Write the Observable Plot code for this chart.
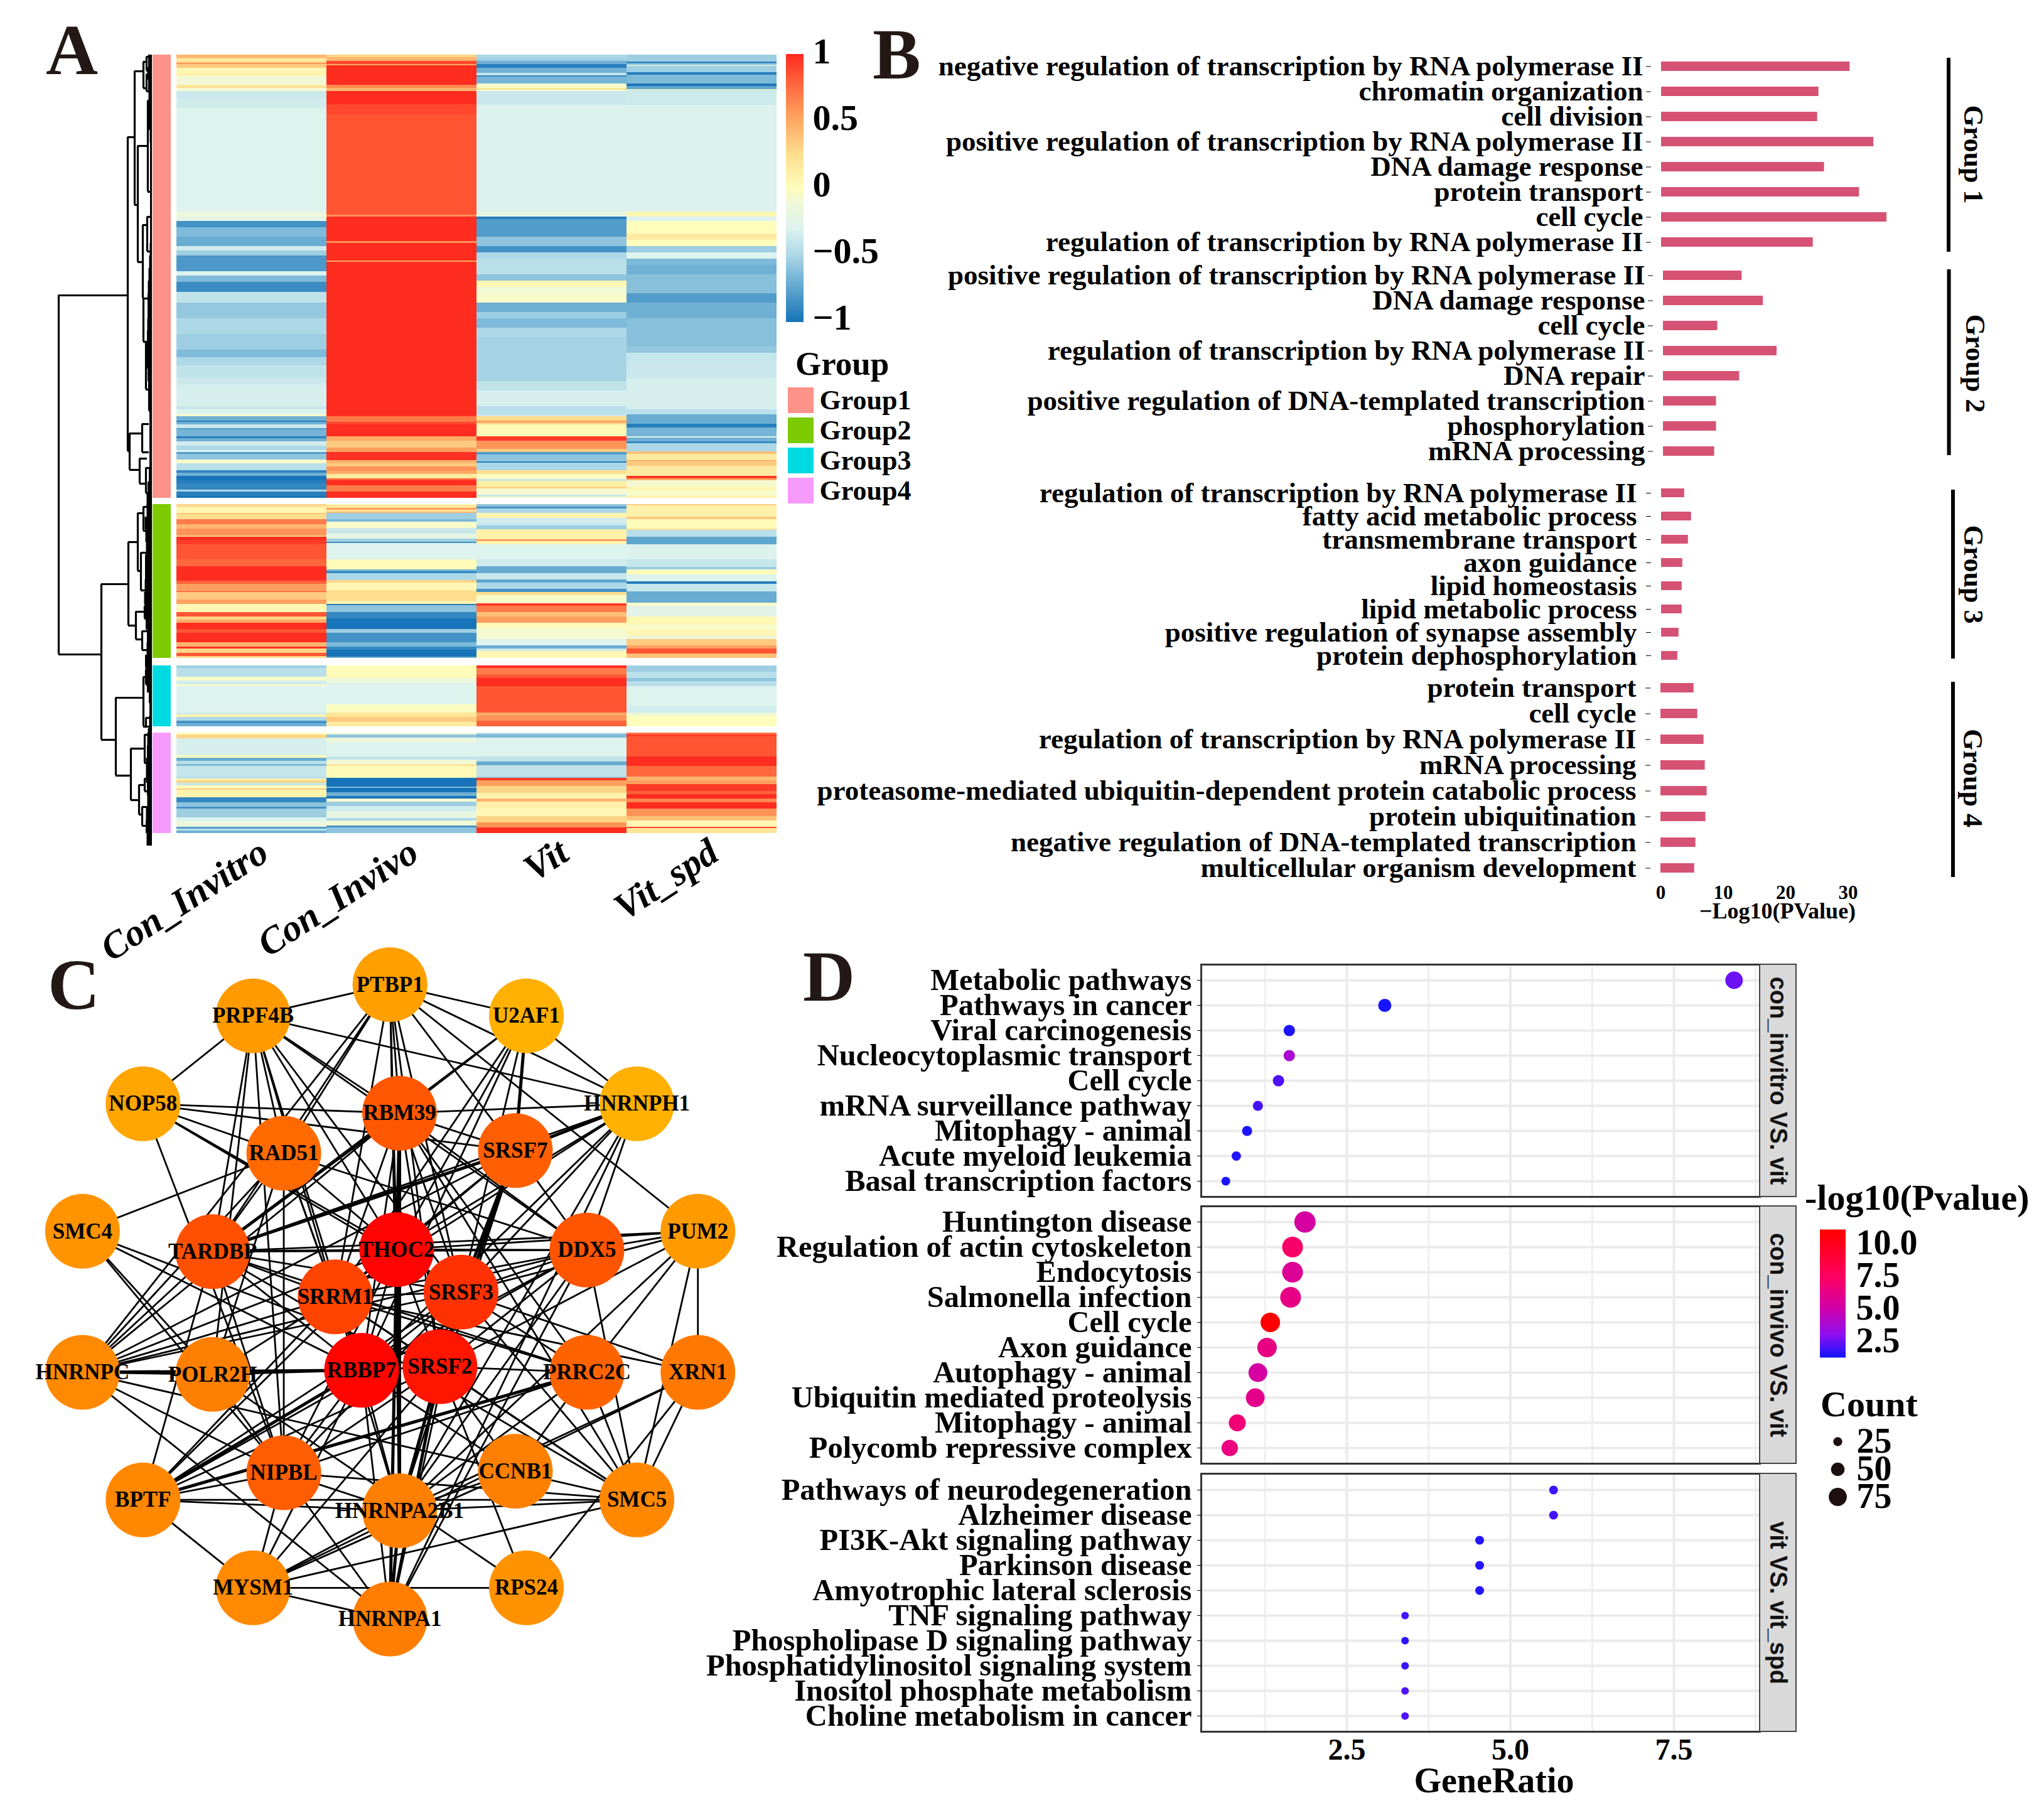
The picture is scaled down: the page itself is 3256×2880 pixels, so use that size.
<!DOCTYPE html>
<html><head><meta charset="utf-8">
<script src="https://cdn.jsdelivr.net/npm/d3@7"></script>
<script src="https://cdn.jsdelivr.net/npm/@observablehq/plot@0.6"></script>
<style>
html,body{margin:0;background:#fff}
#root{position:relative;width:3256px;height:2880px;overflow:hidden;font-family:"Liberation Serif",serif;font-weight:bold}
#root svg{position:absolute;background:transparent;max-width:none;overflow:visible}
.t{position:absolute;line-height:1;white-space:nowrap}
.letter{font-size:115px;color:#231815}
</style></head><body><div id="root"></div>
<script>
// ---------- Panel A data: each list is [last row of the run, z-score]
const heatColumns = ["Con_Invitro","Con_Invivo","Vit","Vit_spd"];
const groupNames = ["Group1","Group2","Group3","Group4"];
const groupRows = [706,245,97,160];
const g1ConInvitro=[[5,.45],[7,.25],[11,.15],[13,.3],[15,.6],[21,.35],[29,.05],[34,.1],[48,-.1],[50,.15],[53,.25],[58,-.08],[70,-.38],[85,-.36],[250,-.3],[258,-.15],[265,-.22],[275,-.85],[290,-.65],[305,-.72],[312,-.35],[320,-.55],[345,-.82],[352,-.3],[362,-.65],[378,-.88],[395,-.42],[420,-.58],[445,-.5],[470,-.55],[482,-.65],[495,-.5],[515,-.42],[525,-.38],[535,-.34],[560,-.33],[565,-.4],[573,-.3],[576,-.05],[583,-.7],[585,-.95],[589,-.7],[595,-.38],[597,-.8],[608,-.68],[611,-.95],[616,-.7],[623,-.35],[630,-.5],[633,-.3],[636,-.8],[645,-.6],[651,-.05],[662,-.45],[666,-.92],[671,-.7],[678,-1],[683,-.95],[693,-.9],[696,-.5],[703,-.95],[706,-1]];
const g1ConInvivo=[[4,.3],[10,.45],[15,.9],[17,.5],[48,1],[53,.65],[58,.45],[79,1],[95,.9],[255,.85],[258,.6],[297,1],[300,.6],[328,1],[330,.5],[573,1],[576,.98],[585,.7],[589,.9],[608,1],[615,.5],[626,.35],[633,.55],[646,.98],[651,.45],[656,.35],[663,.6],[668,.5],[675,.15],[678,.8],[686,1],[696,.7],[706,1]];
const g1Vit=[[6,-.5],[10,-.55],[15,-.7],[21,-.95],[29,-.7],[33,-.4],[35,-.9],[46,-.68],[53,-.05],[56,.2],[58,-.1],[80,-.38],[250,-.31],[258,-.2],[262,-.95],[290,-.8],[305,-.6],[315,-.85],[325,-.5],[350,-.45],[360,-.6],[370,.05],[380,-.1],[395,-.05],[410,-.7],[420,-.55],[435,-.65],[450,-.5],[520,-.52],[535,-.42],[560,-.33],[573,-.45],[576,-.38],[583,.25],[586,.55],[589,.3],[608,.03],[615,.95],[628,.6],[633,.35],[637,-.8],[648,-.6],[650,-.95],[662,-.5],[668,.25],[676,-.02],[679,-.4],[688,.12],[691,.3],[701,-.08],[704,-.4],[706,-.05]];
const g1VitSpd=[[11,-.55],[14,-.9],[17,-.55],[18,-.05],[28,-.55],[32,-.95],[46,-.65],[50,-.98],[55,-.75],[56,.1],[80,-.37],[250,-.31],[258,.05],[265,-.3],[285,0],[295,.15],[305,0],[315,-.55],[325,-.3],[335,-.65],[350,-.7],[380,-.62],[395,-.8],[420,-.7],[465,-.62],[475,-.58],[490,-.4],[515,-.38],[530,-.33],[565,-.33],[573,-.45],[588,-.72],[594,-.95],[608,-.68],[610,-.25],[616,-.7],[619,-.9],[632,-.5],[636,.4],[646,.15],[647,.6],[655,.35],[671,.15],[675,.95],[678,.5],[688,-.08],[694,.05],[703,-.05],[706,.1]];
const g2ConInvitro=[[4,.3],[7,.1],[14,.05],[16,.35],[24,.25],[32,.7],[39,.45],[50,.6],[52,.3],[57,1],[64,.95],[88,.85],[99,.78],[122,1],[127,.8],[139,.55],[140,.9],[152,.35],[159,.55],[172,.05],[179,.85],[184,.3],[189,.5],[199,1],[205,.85],[220,1],[227,.45],[230,.98],[237,.3],[242,.85],[245,.3]];
const g2ConInvivo=[[2,.1],[6,.2],[9,.55],[12,.2],[14,.45],[24,-.55],[28,-.65],[38,-.05],[47,-.38],[55,-.2],[60,-.55],[62,-.85],[88,-.3],[104,.02],[107,-.7],[110,-.9],[121,-.5],[125,.3],[137,.05],[154,.25],[159,.08],[161,-.95],[172,-.6],[182,-.9],[199,-1],[205,-.55],[220,-.85],[227,-.65],[232,-.9],[243,-1],[245,-.7]];
const g2Vit=[[4,-.6],[7,-.85],[14,-.5],[22,.08],[30,-.35],[34,-.4],[40,-.55],[56,.1],[59,.55],[64,.05],[88,-.3],[99,-.36],[110,-.72],[120,-.38],[125,-.75],[135,-.5],[140,-.85],[145,.25],[158,-.05],[162,.95],[172,.7],[179,.4],[189,.55],[197,.03],[215,-.08],[225,-.3],[230,-.72],[234,-.35],[245,.05]];
const g2VitSpd=[[2,.35],[20,.1],[24,.35],[39,.02],[41,.25],[52,-.45],[64,-.75],[88,-.31],[100,-.4],[104,-.55],[112,.02],[123,-.3],[127,-.95],[139,-.4],[157,-.72],[162,-.05],[179,-.25],[192,.05],[200,-.05],[210,.05],[215,-.15],[225,.35],[230,.55],[238,.85],[245,.4]];
const g3ConInvitro=[[4,-.55],[18,-.45],[24,-.05],[30,-.35],[33,-.05],[75,-.3],[78,-.35],[82,.1],[88,-.5],[92,-.85],[97,-.7]];
const g3ConInvivo=[[20,.02],[28,-.15],[62,-.3],[75,-.02],[82,.2],[90,.35],[97,.15]];
const g3Vit=[[4,1],[15,.7],[20,.85],[33,1],[75,.85],[80,.5],[88,.6],[97,.8]];
const g3VitSpd=[[10,-.55],[20,-.45],[25,-.6],[33,-.45],[65,-.3],[75,-.35],[80,-.15],[97,0]];
const g4ConInvitro=[[3,.02],[9,.3],[36,-.33],[40,0],[45,-.72],[50,-.45],[53,-.65],[70,-.4],[73,-.45],[76,.1],[80,.3],[84,-.4],[89,.02],[91,.35],[103,.08],[111,-.9],[118,-.6],[121,-.85],[135,-.55],[141,-.3],[150,-.15],[153,-.8],[156,-.45],[160,-.7]];
const g4ConInvivo=[[3,-.15],[8,-.6],[16,-.15],[38,-.3],[43,-.42],[50,-.1],[53,.2],[72,.03],[86,-1],[88,-.65],[95,-1],[101,-.7],[105,-1],[110,-.08],[117,-.55],[125,-.35],[136,-.2],[140,-.5],[148,-.1],[151,-.85],[160,-.6]];
const g4Vit=[[2,-.4],[8,-.65],[38,-.3],[46,-.42],[52,-.72],[70,-.42],[72,-.55],[76,.95],[85,.55],[96,.3],[105,.08],[110,.45],[121,.1],[133,.05],[143,.3],[151,.6],[160,1]];
const g4VitSpd=[[3,.75],[6,.95],[38,.85],[53,1],[70,.78],[76,.45],[82,.55],[93,.95],[98,.8],[105,1],[111,.65],[121,1],[133,.6],[140,.4],[150,.05],[152,.9],[160,.2]];
const heatRuns=[[g1ConInvitro,g1ConInvivo,g1Vit,g1VitSpd],[g2ConInvitro,g2ConInvivo,g2Vit,g2VitSpd],[g3ConInvitro,g3ConInvivo,g3Vit,g3VitSpd],[g4ConInvitro,g4ConInvivo,g4Vit,g4VitSpd]];
const heatTicks=[-1,-.5,0,.5,1];
const groupColors=["#FF9289","#7CCB00","#00DBE2","#F69BFC"];
// dendrogram merges: height, upper row, lower row, upper child height, lower child height
const dendH=[149,39,36,28,23,7,14,9,9,15,8,14,10,5,16,20,10,81,38,23,14,18,26,12,16,58,14,10,10,34,12,21,12,16];
const dendTop=[383,131,603,26,145,73,11,3,31,271,258,388,457,513,588,643,658,843,776,730,720,793,887,878,918,1024,991,980,1056,1105,1083,1163,1153,1198];
const dendBottom=[955,631,661,239,330,218,53,25,58,388,313,457,533,567,633,683,698,1091,909,822,758,853,931,898,948,1148,1070,1003,1070,1187,1128,1210,1173,1228];
const dendChildTop=[39,28,16,14,7,2,9,2,2,8,3,6,5,3,5,8,4,38,23,14,5,5,12,3,6,14,10,3,3,12,3,12,3,4];
const dendChildBottom=[81,36,20,23,15,2,9,2,2,14,3,10,5,3,5,10,4,58,26,18,7,8,16,3,3,34,10,3,3,21,3,16,3,4];
// outline of the dense leaf fringe, one reading per twenty rows of each group
const fringeG1=[4,8,7,5,6,6,4,3,3,3,3,3,3,3,3,3,4,5,6,7,7,7,8,8,9,8,6,6,4,4,4,4,4,4,6,8,9,7,8,8,9];
const fringeG2=[6,11,12,9,10,12,10,13,12,11,9,7,10,12,9,7];
const fringeG3=[8,7,6,4,4,5,8];
const fringeG4=[8,7,9,10,9,7,8,11,9,8];

// ---------- Panel B data
const termsG1=["negative regulation of transcription by RNA polymerase II","chromatin organization","cell division","positive regulation of transcription by RNA polymerase II","DNA damage response","protein transport","cell cycle","regulation of transcription by RNA polymerase II"];
const logpG1=[30.2,25.2,25.0,34.0,26.1,31.7,36.1,24.3];
const termsG2=["positive regulation of transcription by RNA polymerase II","DNA damage response","cell cycle","regulation of transcription by RNA polymerase II","DNA repair","positive regulation of DNA-templated transcription","phosphorylation","mRNA processing"];
const logpG2=[12.6,16,8.7,18.2,12.2,8.5,8.5,8.2];
const termsG3=["regulation of transcription by RNA polymerase II","fatty acid metabolic process","transmembrane transport","axon guidance","lipid homeostasis","lipid metabolic process","positive regulation of synapse assembly","protein dephosphorylation"];
const logpG3=[3.7,4.8,4.3,3.4,3.3,3.3,2.8,2.6];
const termsG4=["protein transport","cell cycle","regulation of transcription by RNA polymerase II","mRNA processing","proteasome-mediated ubiquitin-dependent protein catabolic process","protein ubiquitination","negative regulation of DNA-templated transcription","multicellular organism development"];
const logpG4=[5.3,5.9,6.9,7.1,7.4,7.2,5.6,5.4];

// ---------- Panel C data
const nodeNames=["PTBP1","PRPF4B","U2AF1","NOP58","HNRNPH1","RBM39","RAD51","SRSF7","SMC4","PUM2","TARDBP","THOC2","DDX5","SRRM1","SRSF3","RBBP7","SRSF2","HNRNPC","POLR2H","PRRC2C","XRN1","NIPBL","CCNB1","BPTF","SMC5","HNRNPA2B1","MYSM1","RPS24","HNRNPA1"];
const nodeLayoutX=[811,526,1095,297,1325,831,590,1072,171,1452,442,825,1221,697,959,752,915,171,442,1221,1452,590,1072,297,1325,831,526,1095,811];
const nodeLayoutY=[106,166,166,335,335,353,430,425,580,580,619,615,616,706,697,847,840,851,855,851,851,1044,1041,1096,1096,1117,1265,1265,1325];
const nodeScore=[9,12,0,6,0,50,40,46,16,12,55,98,52,62,72,97,88,22,28,44,31,47,28,23,23,28,22,17,29];
const neighbours={
PTBP1:"U2AF1 HNRNPH1 PRPF4B RBM39 THOC2 SRSF3 SRSF2 SRSF7 RAD51 TARDBP SRRM1 HNRNPA2B1 HNRNPC PUM2",
PRPF4B:"NOP58 HNRNPH1 RBM39 THOC2 SRSF3 RBBP7 SRRM1 TARDBP RAD51 POLR2H DDX5 NIPBL",
U2AF1:"HNRNPH1 RBM39 SRSF7 SRSF3 THOC2 SRRM1 TARDBP RBBP7",
NOP58:"RBM39 SRSF7 RAD51 THOC2 NIPBL SRSF3",
HNRNPH1:"RBM39 SRSF7 THOC2 SRSF3 DDX5 RBBP7 TARDBP HNRNPA2B1 HNRNPA1 SRRM1",
RBM39:"THOC2 SRSF3 SRSF2 RBBP7 SRRM1 TARDBP SRSF7 DDX5 HNRNPC PRRC2C SMC5 HNRNPA2B1",
RAD51:"SMC4 THOC2 SRRM1 RBBP7 TARDBP NIPBL DDX5 HNRNPC POLR2H",
SRSF7:"THOC2 SRSF3 SRSF2 SRRM1 TARDBP DDX5 HNRNPC HNRNPA2B1",
SMC4:"POLR2H RBBP7 SRSF2 NIPBL",
PUM2:"DDX5 THOC2 TARDBP XRN1 SMC5 PRRC2C SRSF3 SRSF2 HNRNPA2B1",
TARDBP:"THOC2 DDX5 SRSF3 SRRM1 RBBP7 HNRNPC BPTF NIPBL PRRC2C SMC5",
THOC2:"DDX5 SRRM1 SRSF3 RBBP7 SRSF2 HNRNPA2B1 HNRNPA1 HNRNPC NIPBL BPTF",
DDX5:"SRSF3 SRRM1 SRSF2 RBBP7 HNRNPA2B1 HNRNPA1 SMC5 HNRNPC BPTF",
SRRM1:"SRSF3 RBBP7 SRSF2 HNRNPC POLR2H XRN1 SMC5 BPTF HNRNPA2B1 PRRC2C",
SRSF3:"RBBP7 SRSF2 HNRNPC PRRC2C SMC5 XRN1 HNRNPA1 HNRNPA2B1 BPTF NIPBL",
RBBP7:"SRSF2 HNRNPC POLR2H NIPBL HNRNPA2B1 HNRNPA1 BPTF CCNB1 MYSM1",
SRSF2:"HNRNPA2B1 HNRNPA1 CCNB1 NIPBL BPTF SMC5 PRRC2C RPS24 MYSM1",
HNRNPC:"POLR2H NIPBL HNRNPA1 SMC5",
POLR2H:"NIPBL RPS24",
PRRC2C:"BPTF SMC5 HNRNPA2B1 CCNB1",
XRN1:"HNRNPA2B1 MYSM1 RPS24 SMC5",
NIPBL:"BPTF SMC5 MYSM1 HNRNPA1 HNRNPA2B1 PRRC2C",
CCNB1:"HNRNPA2B1 MYSM1",
BPTF:"SMC5 HNRNPA2B1 MYSM1",
SMC5:"MYSM1 HNRNPA2B1",
HNRNPA2B1:"MYSM1 HNRNPA1",
MYSM1:"RPS24 HNRNPA1"};
const heavyLinks=["U2AF1 SRSF7","HNRNPH1 SRSF7","RBM39 THOC2","RBM39 TARDBP","RBM39 HNRNPA2B1","SRSF7 SRSF3","SRSF7 SRSF2","SRSF7 TARDBP","THOC2 HNRNPA2B1","THOC2 HNRNPA1","RBBP7 HNRNPC","RBBP7 BPTF","SRSF2 HNRNPA2B1","SRSF2 HNRNPA1","PRRC2C BPTF","HNRNPA2B1 HNRNPA1"];

// ---------- Panel D data
const keggP1=["Metabolic pathways","Pathways in cancer","Viral carcinogenesis","Nucleocytoplasmic transport","Cell cycle","mRNA surveillance pathway","Mitophagy - animal","Acute myeloid leukemia","Basal transcription factors"];
const ratioP1=[8.42,3.08,1.62,1.62,1.455,1.14,.975,.81,.65];
const countP1=[72,48,38,38,38,31,31,27,24];
const pvalP1=[2.5,1.3,1.4,3.8,2.1,2,1.4,1.5,1.35];
const keggP2=["Huntington disease","Regulation of actin cytoskeleton","Endocytosis","Salmonella infection","Cell cycle","Axon guidance","Autophagy - animal","Ubiquitin mediated proteolysis","Mitophagy - animal","Polycomb repressive complex"];
const ratioP2=[1.86,1.67,1.67,1.64,1.33,1.28,1.14,1.10,.825,.71];
const countP2=[93,90,90,90,83,83,79,79,69,66];
const pvalP2=[5.2,7.2,5.7,6.2,10.9,6.3,5.2,6,6.8,6.4];
const keggP3=["Pathways of neurodegeneration","Alzheimer disease","PI3K-Akt signaling pathway","Parkinson disease","Amyotrophic lateral sclerosis","TNF signaling pathway","Phospholipase D signaling pathway","Phosphatidylinositol signaling system","Inositol phosphate metabolism","Choline metabolism in cancer"];
const ratioP3=[5.66,5.66,4.53,4.53,4.53,3.39,3.39,3.39,3.39,3.39];
const countP3=[24,24,24,24,24,17,17,17,17,17];
const pvalP3=[1.9,1.9,1.5,1.5,1.5,1.9,1.6,1.8,2.1,2.1];
const stripLabels=["con_invitro VS. vit","con_invivo VS. vit","vit VS. vit_spd"];
const countLegend=[25,50,75];
const pvalTicks=[2.5,5,7.5,10];

// ---------- helpers
const root=document.getElementById("root");
const serif={fontFamily:"Liberation Serif",fontWeight:"bold",color:"#000",background:"transparent"};
function place(svg,left,top){svg.style.left=left+"px";svg.style.top=top+"px";root.appendChild(svg);return svg;}
function label(text,left,top,size,cls){const d=document.createElement("div");d.className="t "+(cls||"");d.textContent=text;d.style.left=left+"px";d.style.top=top+"px";if(size)d.style.fontSize=size+"px";root.appendChild(d);}
const heatScale={type:"linear",domain:[-1,-.75,-.5,-.3,-.1,0,.25,.5,.75,.85,1],range:["#1874B8","#5FA6CF","#ADD8E7","#DDF3EE","#F1F8D5","#FFFDBC","#FEDF8F","#FFAB66","#FF6F42","#FF5533","#FF2C20"],clamp:true};

// ---------- Panel A
const groupTops=[87,803,1060,1167];
groupNames.forEach((g,gi)=>{
  const rows=[];
  heatRuns[gi].forEach((runs,ci)=>{let start=0;runs.forEach(([end,z])=>{rows.push({col:heatColumns[ci],start,end,z});start=end;});});
  const last=gi===3;
  const marks=[Plot.barY(rows,{x:"col",y1:"start",y2:"end",fill:"z",shapeRendering:"crispEdges"})];
  if(last)marks.push(Plot.axisX({tickRotate:-33,tickSize:0,tickPadding:24,fontSize:60,fontStyle:"italic",dx:20,label:null}));
  place(Plot.plot({width:958,height:groupRows[gi]+(last?240:0),marginTop:0,marginLeft:0,marginRight:0,marginBottom:last?240:0,style:serif,
    x:{domain:heatColumns,padding:0,axis:null,label:null},y:{domain:[0,groupRows[gi]],reverse:true,axis:null},color:heatScale,marks}),280,groupTops[gi]);
  place(Plot.plot({width:29,height:groupRows[gi],margin:0,style:serif,x:{axis:null,padding:0},y:{axis:null,padding:0},
    marks:[Plot.cell([g],{x:d=>d,y:d=>d,fill:groupColors[gi]})]}),243,groupTops[gi]);
});
// dendrogram
const merges=dendH.map((h,i)=>({h,top:dendTop[i],bottom:dendBottom[i],ct:dendChildTop[i],cb:dendChildBottom[i]}));
const fringe=(list,start)=>list.map((h,i)=>({row:start+i*20,h}));
const dx={domain:[162,0],axis:null},dy={domain:[0,1240],reverse:true,axis:null};
const areaOpts={y:"row",x1:0,x2:"h",fill:"#000",curve:"step"};
place(Plot.plot({width:162,height:1240,margin:0,style:serif,x:dx,y:dy,marks:[
  Plot.areaX(fringe(fringeG1,0),areaOpts),Plot.areaX(fringe(fringeG2,716),areaOpts),
  Plot.areaX(fringe(fringeG3,973),areaOpts),Plot.areaX(fringe(fringeG4,1080),areaOpts),
  Plot.ruleX(merges,{x:"h",y1:"top",y2:"bottom",stroke:"#000",strokeWidth:3.2}),
  Plot.ruleY(merges,{y:"top",x1:"h",x2:"ct",stroke:"#000",strokeWidth:3.2}),
  Plot.ruleY(merges,{y:"bottom",x1:"h",x2:"cb",stroke:"#000",strokeWidth:3.2})
]}),80,87);
// colour bar A
const barSteps=d3.range(-1,1.001,.01);
place(Plot.plot({width:200,height:424,marginTop:0,marginBottom:0,marginLeft:0,marginRight:172,style:serif,
  x:{axis:null},y:{domain:[-1,1],label:null},color:heatScale,marks:[
  Plot.ruleY(barSteps,{y:d=>d,stroke:d=>d,strokeWidth:3}),
  Plot.axisY(heatTicks,{anchor:"right",tickSize:0,tickPadding:14,fontSize:58,dy:-5,label:null,tickFormat:d=>(d<0?"\u2212":"")+Math.abs(d)})
]}),1252,87);
label("Group",1267,553,53);
place(Plot.plot({width:200,height:193,marginTop:0,marginBottom:0,marginLeft:0,marginRight:159,style:serif,
  x:{axis:null,padding:0},y:{domain:groupNames,paddingInner:.14,paddingOuter:.07,label:null},marks:[
  Plot.cell(groupNames,{y:d=>d,x:()=>"k",fill:(d,i)=>groupColors[i]}),
  Plot.axisY({anchor:"right",tickSize:0,tickPadding:9,fontSize:44,label:null})
]}),1255,613);

// ---------- Panel B
function barPanel(terms,vals,top,h,leftShift,pad,name,insets,ruleAt,last){
  const rows=terms.map((t,i)=>({t,v:vals[i]}));
  const marks=[
    Plot.barX(rows,{y:"t",x:"v",fill:"#D65274"}),
    Plot.axisY({anchor:"left",tickSize:8,tickPadding:pad,fontSize:45,label:null}),
    Plot.ruleX([ruleAt],{x:d=>d,stroke:"#000",strokeWidth:6,insetTop:insets[0],insetBottom:insets[1]}),
    Plot.text([name],{x:()=>49.9,frameAnchor:"middle",rotate:90,fontSize:44,fill:"#000"})
  ];
  if(last){marks.push(Plot.axisX({ticks:[0,10,20,30],tickSize:0,tickPadding:5,fontSize:31,label:null}));
    marks.push(Plot.text(["\u2212Log10(PValue)"],{x:()=>18.7,frameAnchor:"bottom",dy:58,fontSize:36,fill:"#000"}));}
  place(Plot.plot({width:2020,height:h+(last?70:0),marginTop:0,marginBottom:last?70:0,marginLeft:1430,marginRight:17,style:serif,
    x:{domain:[0,56],range:[1446,2003],axis:last?undefined:null,label:null},y:{domain:terms,paddingInner:.63,paddingOuter:.315,label:null},marks}),1200+leftShift,top);
}
barPanel(termsG1,logpG1,82,327,0,5,"Group 1",[10,8],46,false);
barPanel(termsG2,logpG2,416,325,2.5,5,"Group 2",[13,16],45.75,false);
barPanel(termsG3,logpG3,766,297,0,15,"Group 3",[14,14],46.7,false);
barPanel(termsG4,logpG4,1074,330,-1,15,"Group 4",[12,7],46.8,true);

// ---------- Panel C
const nodes=nodeNames.map((name,i)=>({name,x:nodeLayoutX[i],y:nodeLayoutY[i],score:nodeScore[i]}));
const byName=new Map(nodes.map(n=>[n.name,n]));
const heavy=new Set(heavyLinks);
const links=Object.entries(neighbours).flatMap(([a,list])=>list.split(" ").map(b=>({a:byName.get(a),b:byName.get(b),w:heavy.has(a+" "+b)?5:2.8})));
place(Plot.plot({width:1200,height:1300,margin:0,style:serif,
  x:{domain:[0,1568],axis:null},y:{domain:[0,1568],range:[0,1300],axis:null},
  color:{type:"linear",domain:[0,100],range:["#FFB000","#FF0000"]},marks:[
  Plot.link(links,{x1:d=>d.a.x,y1:d=>d.a.y,x2:d=>d.b.x,y2:d=>d.b.y,stroke:"#000",strokeWidth:"w"}),
  Plot.dot(nodes,{x:"x",y:"y",r:59.5,fill:"score"}),
  Plot.text(nodes,{x:"x",y:"y",text:"name",fontSize:35,fill:"#000"})
]}),0,1480);

// ---------- Panel D
const rScale={type:"linear",domain:[10,100],range:[5,18]};
const pvScale={type:"linear",domain:[1.27,3,5,7.5,10.97],range:["#1414FF","#9010F0","#D000A8","#FF0060","#FF0000"]};
function dotPanel(terms,ratio,count,pv,top,h,strip,last){
  const rows=terms.map((t,i)=>({t,x:ratio[i],n:count[i],p:pv[i]}));
  const marks=[
    Plot.ruleX([1.25,3.75,6.25,8.75],{x:d=>d,stroke:"#EFEFEF",strokeWidth:3}),
    Plot.ruleX([2.5,5,7.5],{x:d=>d,stroke:"#EBEBEB",strokeWidth:4}),
    Plot.ruleY(terms,{y:d=>d,stroke:"#EBEBEB",strokeWidth:4}),
    Plot.dot(rows,{x:"x",y:"t",r:"n",fill:"p"}),
    Plot.frame({stroke:"#333",strokeWidth:3}),
    Plot.axisY({anchor:"left",tickSize:6,tickPadding:9,fontSize:48.5,label:null})
  ];
  if(last){marks.push(Plot.axisX({ticks:[2.5,5,7.5],tickFormat:".1f",tickSize:0,tickPadding:10,fontSize:48,label:null}));
    marks.push(Plot.text(["GeneRatio"],{x:()=>4.75,frameAnchor:"bottom",dy:96,fontSize:56,fill:"#000"}));}
  place(Plot.plot({width:1603,height:h+(last?122:0),marginTop:0,marginBottom:last?122:0,marginLeft:713,marginRight:0,style:serif,
    x:{domain:[.274,8.815],axis:last?undefined:null,label:null},y:{type:"point",domain:terms,padding:.6,label:null},r:rScale,color:pvScale,marks}),1200,top);
  const stripSvg=place(Plot.plot({width:58,height:h,margin:0,style:serif,x:{axis:null,padding:0},y:{axis:null,padding:0},marks:[
    Plot.cell([strip],{x:d=>d,y:d=>d,fill:"#D9D9D9",stroke:"#444",strokeWidth:2}),
    Plot.text([strip],{x:d=>d,y:d=>d,rotate:90,fontSize:38,fill:"#111"})
  ]}),2803,top);
  stripSvg.querySelectorAll("text").forEach(t=>{t.style.fontFamily="'Liberation Sans',sans-serif";t.style.fontWeight="bold";});
}
dotPanel(keggP1,ratioP1,countP1,pvalP1,1536,370,stripLabels[0],false);
dotPanel(keggP2,ratioP2,countP2,pvalP2,1921,410,stripLabels[1],false);
dotPanel(keggP3,ratioP3,countP3,pvalP3,2347,411,stripLabels[2],true);
// legends D
label("-log10(Pvalue)",2875,1879,58);
place(Plot.plot({width:240,height:202,margin:0,marginRight:199,style:serif,x:{axis:null},y:{domain:[1.27,10.97],label:null},color:pvScale,marks:[
  Plot.ruleY(d3.range(1.27,10.98,.05),{y:d=>d,stroke:d=>d,strokeWidth:2}),
  Plot.axisY(pvalTicks,{anchor:"right",tickSize:0,tickPadding:16,fontSize:56,label:null,tickFormat:".1f"})
]}),2899,1959);
label("Count",2900,2208,58);
place(Plot.plot({width:204,height:132,marginTop:0,marginBottom:0,marginLeft:0,marginRight:150,style:serif,x:{axis:null},
  y:{type:"point",domain:countLegend,padding:.5,label:null},r:rScale,marks:[
  Plot.dot(countLegend,{y:d=>d,r:d=>d,fill:"#1D0F0F"}),
  Plot.axisY({anchor:"right",tickSize:0,tickPadding:3,fontSize:56,label:null})
]}),2900,2274);

// panel letters
label("A",73,22,null,"letter");label("B",1390,29,null,"letter");label("C",76,1511,null,"letter");label("D",1279,1498,null,"letter");
</script></body></html>
